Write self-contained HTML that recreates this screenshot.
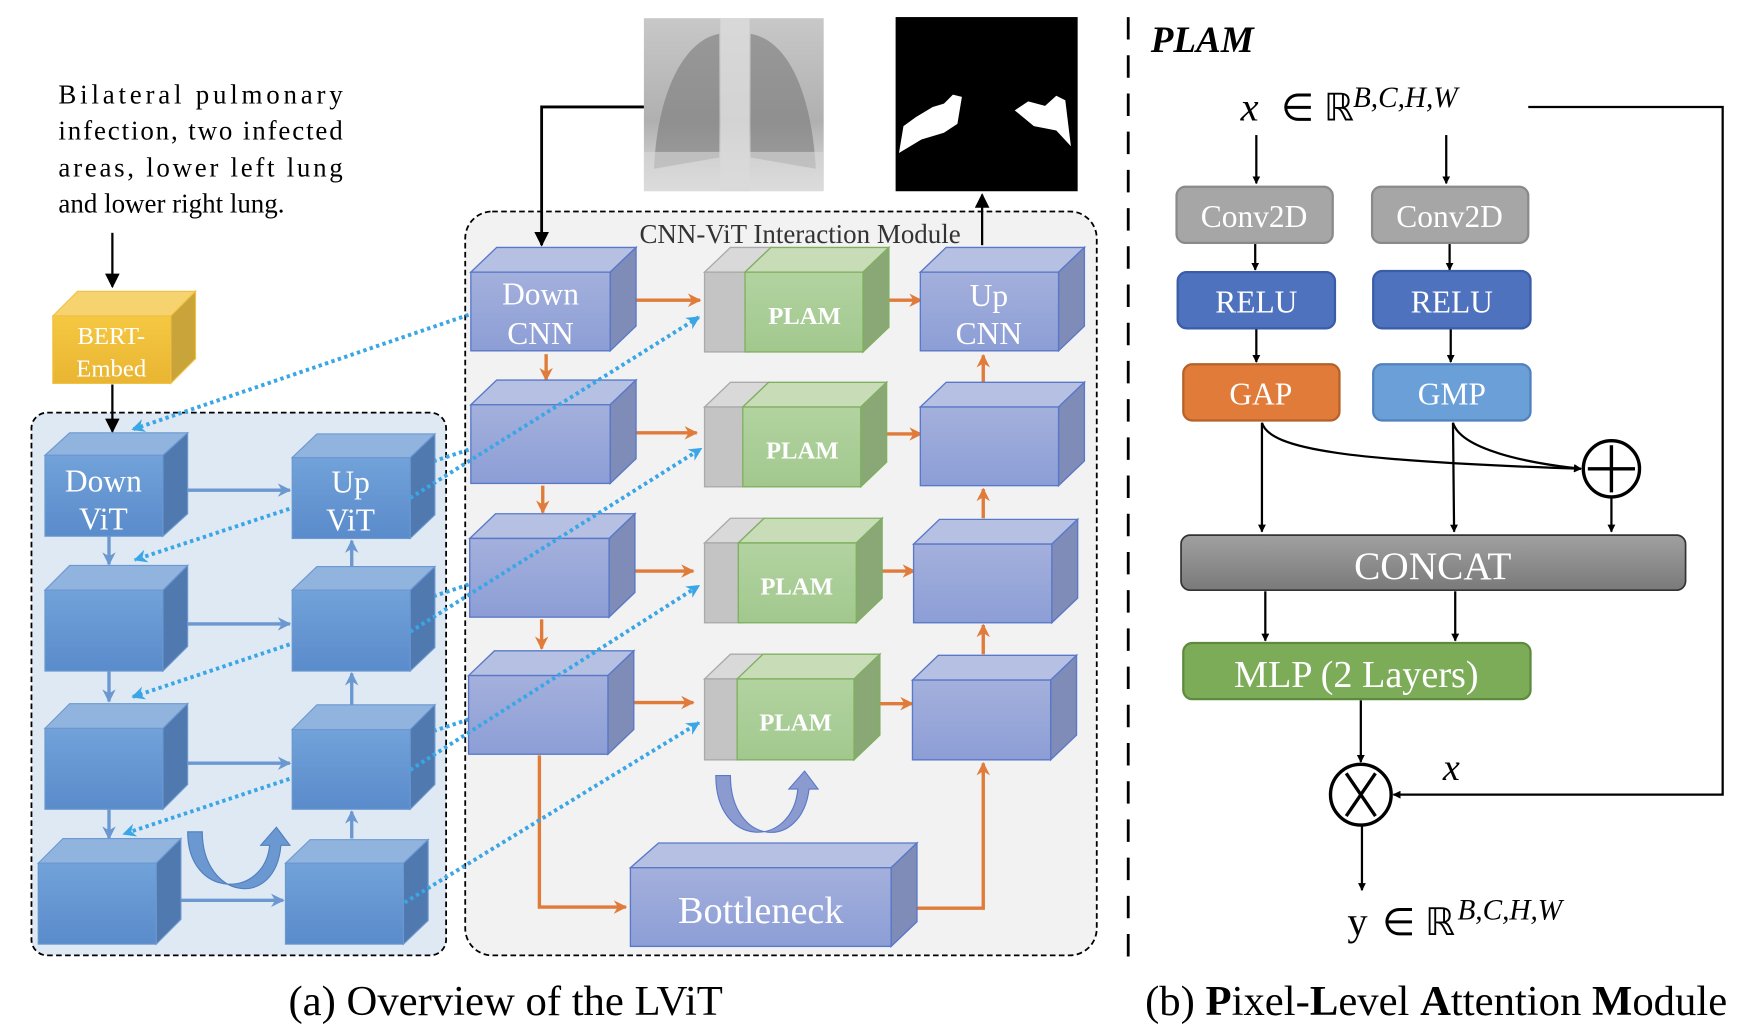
<!DOCTYPE html>
<html><head><meta charset="utf-8"><style>html,body{margin:0;padding:0;background:#fff}svg{display:block}svg text{font-family:"Liberation Serif","Times New Roman",serif}</style></head>
<body>
<svg xmlns="http://www.w3.org/2000/svg" width="1762" height="1032" viewBox="0 0 1568 918">
<defs>
<linearGradient id="vf" x1="0" y1="0" x2="0" y2="1"><stop offset="0" stop-color="#72a2d9"/><stop offset="1" stop-color="#5a8bcb"/></linearGradient>
<linearGradient id="cf" x1="0" y1="0" x2="0" y2="1"><stop offset="0" stop-color="#a4b0dc"/><stop offset="1" stop-color="#8c9ed6"/></linearGradient>
<linearGradient id="gf" x1="0" y1="0" x2="0" y2="1"><stop offset="0" stop-color="#b2d3a0"/><stop offset="1" stop-color="#a2c88e"/></linearGradient>
<linearGradient id="yf" x1="0" y1="0" x2="0" y2="1"><stop offset="0" stop-color="#f5c842"/><stop offset="1" stop-color="#e9b532"/></linearGradient>
<linearGradient id="concat" x1="0" y1="0" x2="0" y2="1"><stop offset="0" stop-color="#a0a0a0"/><stop offset="1" stop-color="#7a7a7a"/></linearGradient>
<linearGradient id="xr" x1="0" y1="0" x2="0" y2="1"><stop offset="0" stop-color="#c8c8c8"/><stop offset="0.6" stop-color="#b0b0b0"/><stop offset="1" stop-color="#e0e0e0"/></linearGradient>
<marker id="ab" viewBox="0 0 10 10" refX="9" refY="5" markerWidth="7" markerHeight="7" orient="auto-start-reverse" markerUnits="userSpaceOnUse"><path d="M0,0L10,5L0,10z" fill="#000"/></marker>
<marker id="ao" viewBox="0 0 10 10" refX="9" refY="5" markerWidth="12" markerHeight="12" orient="auto" markerUnits="userSpaceOnUse"><path d="M0,0L10,5L0,10L3,5z" fill="#e07b39"/></marker>
<marker id="av" viewBox="0 0 10 10" refX="9" refY="5" markerWidth="12" markerHeight="12" orient="auto" markerUnits="userSpaceOnUse"><path d="M0,0L10,5L0,10L3,5z" fill="#6b98d0"/></marker>
<marker id="ad" viewBox="0 0 10 10" refX="9" refY="5" markerWidth="12" markerHeight="12" orient="auto" markerUnits="userSpaceOnUse"><path d="M0,0L10,5L0,10L3,5z" fill="#3aa6e6"/></marker>
<marker id="ak" viewBox="0 0 10 10" refX="9" refY="5" markerWidth="13" markerHeight="13" orient="auto" markerUnits="userSpaceOnUse"><path d="M0,0L10,5L0,10z" fill="#000"/></marker>
</defs>

<rect x="28" y="367" width="369" height="483" rx="14" fill="#dfe9f4" stroke="#000" stroke-width="1.6" stroke-dasharray="5,3"/>
<rect x="414" y="188" width="562" height="662" rx="24" fill="#f2f2f2" stroke="#000" stroke-width="1.6" stroke-dasharray="5,3"/>
<line x1="1004" y1="15" x2="1004" y2="865" stroke="#000" stroke-width="2.5" stroke-dasharray="20,14"/>

<g font-size="24" fill="#000">
<text x="52" y="92" textLength="253" lengthAdjust="spacing">Bilateral pulmonary</text>
<text x="52" y="124" textLength="253" lengthAdjust="spacing">infection, two infected</text>
<text x="52" y="157" textLength="253" lengthAdjust="spacing">areas, lower left lung</text>
<text x="52" y="189">and lower right lung.</text>
</g>
<line x1="100" y1="207" x2="100" y2="255" stroke="#000" stroke-width="2" marker-end="url(#ak)"/>
<polygon points="47,281 69,259 174,259 152,281" fill="#f6d36e" stroke="#f0c040"/>
<polygon points="152,281 174,259 174,319 152,341" fill="#c9a43a" stroke="#f0c040"/>
<rect x="47" y="281" width="105" height="60" fill="url(#yf)" stroke="#f0c040"/>
<text x="99" y="306" font-size="22" fill="#fff" text-anchor="middle">BERT-</text>
<text x="99" y="335" font-size="22" fill="#fff" text-anchor="middle">Embed</text>
<line x1="100" y1="342" x2="100" y2="384" stroke="#000" stroke-width="2" marker-end="url(#ak)"/>

<rect x="573" y="16" width="160" height="154" fill="url(#xr)"/>
<path d="M640,30 C610,35 585,80 582,150 L640,140 Z" fill="#7a7a7a" opacity="0.6"/>
<path d="M668,30 C700,35 722,80 726,150 L668,140 Z" fill="#7a7a7a" opacity="0.6"/>
<rect x="641" y="16" width="26" height="154" fill="#dcdcdc" opacity="0.8"/>
<rect x="573" y="135" width="160" height="35" fill="#d8d8d8" opacity="0.6"/>
<rect x="797" y="15" width="162" height="155" fill="#000"/>
<path d="M800,136 L804,112 L815,104 L830,95 L840,92 L848,84 L856,86 L852,110 L840,118 L820,124 Z" fill="#fff"/>
<path d="M903,98 L915,90 L930,94 L940,85 L948,89 L953,130 L940,116 L920,112 Z" fill="#fff"/>
<polyline points="573,95 482,95 482,218" fill="none" stroke="#000" stroke-width="2.5" marker-end="url(#ak)"/>
<line x1="874" y1="218" x2="874" y2="173" stroke="#000" stroke-width="2" marker-end="url(#ak)"/>
<text x="712" y="216" font-size="24" fill="#333" text-anchor="middle">CNN-ViT Interaction Module</text>

<g stroke="#3aa6e6" stroke-width="3.5" stroke-dasharray="3,3" fill="none" marker-end="url(#ad)">
<line x1="417" y1="280" x2="118" y2="382"/>
<line x1="417" y1="400" x2="120" y2="498"/>
<line x1="417" y1="520" x2="118" y2="620"/>
<line x1="417" y1="640" x2="110" y2="742"/>
</g>

<g stroke="#6b98d0" stroke-width="3" fill="none" marker-end="url(#av)">
<line x1="145" y1="436" x2="258" y2="436"/>
<line x1="145" y1="555" x2="258" y2="555"/>
<line x1="145" y1="679" x2="258" y2="679"/>
<line x1="139" y1="801" x2="252" y2="801"/>
<line x1="97" y1="477" x2="97" y2="502"/>
<line x1="97" y1="597" x2="97" y2="624"/>
<line x1="97" y1="720" x2="97" y2="746"/>
<line x1="313" y1="505" x2="313" y2="481"/>
<line x1="313" y1="627" x2="313" y2="599"/>
<line x1="313" y1="746" x2="313" y2="722"/>
</g>

<g stroke="#6b98d0" stroke-width="1">
<polygon points="40,405 62,385 167,385 145,405" fill="#91b4df"/><polygon points="145,405 167,385 167,457 145,477" fill="#5079b0"/><rect x="40" y="405" width="105" height="72" fill="url(#vf)"/>
<polygon points="40,525 62,503 167,503 145,525" fill="#91b4df"/><polygon points="145,525 167,503 167,575 145,597" fill="#5079b0"/><rect x="40" y="525" width="105" height="72" fill="url(#vf)"/>
<polygon points="40,648 62,626 167,626 145,648" fill="#91b4df"/><polygon points="145,648 167,626 167,698 145,720" fill="#5079b0"/><rect x="40" y="648" width="105" height="72" fill="url(#vf)"/>
<polygon points="34,768 56,746 161,746 139,768" fill="#91b4df"/><polygon points="139,768 161,746 161,818 139,840" fill="#5079b0"/><rect x="34" y="768" width="105" height="72" fill="url(#vf)"/>
<polygon points="260,407 282,386 387,386 365,407" fill="#91b4df"/><polygon points="365,407 387,386 387,458 365,479" fill="#5079b0"/><rect x="260" y="407" width="105" height="72" fill="url(#vf)"/>
<polygon points="260,525 282,504 387,504 365,525" fill="#91b4df"/><polygon points="365,525 387,504 387,576 365,597" fill="#5079b0"/><rect x="260" y="525" width="105" height="72" fill="url(#vf)"/>
<polygon points="260,649 282,627 387,627 365,649" fill="#91b4df"/><polygon points="365,649 387,627 387,698 365,720" fill="#5079b0"/><rect x="260" y="649" width="105" height="71" fill="url(#vf)"/>
<polygon points="254,768 276,747 381,747 359,768" fill="#91b4df"/><polygon points="359,768 381,747 381,819 359,840" fill="#5079b0"/><rect x="254" y="768" width="105" height="72" fill="url(#vf)"/>
</g>
<g font-size="28" fill="#fff" text-anchor="middle">
<text x="92" y="437">Down</text><text x="92" y="471">ViT</text>
<text x="312" y="438">Up</text><text x="312" y="472">ViT</text>
</g>
<path d="M167,740 C167,800 235,800 240,752 L232,752 L246,736 L258,752 L250,752 C245,810 180,800 180,740 Z" fill="#6b98d0" stroke="#4e7fbf"/>

<g stroke="#e07b39" stroke-width="3" fill="none" marker-end="url(#ao)">
<line x1="545" y1="267" x2="623" y2="267"/>
<line x1="545" y1="385" x2="620" y2="385"/>
<line x1="543" y1="508" x2="617" y2="508"/>
<line x1="543" y1="625" x2="617" y2="625"/>
<line x1="766" y1="267" x2="820" y2="267"/>
<line x1="766" y1="386" x2="820" y2="386"/>
<line x1="762" y1="508" x2="814" y2="508"/>
<line x1="760" y1="626" x2="812" y2="626"/>
<line x1="486" y1="315" x2="486" y2="338"/>
<line x1="483" y1="432" x2="483" y2="456"/>
<line x1="482" y1="551" x2="482" y2="577"/>
<line x1="875" y1="340" x2="875" y2="316"/>
<line x1="875" y1="461" x2="875" y2="435"/>
<line x1="875" y1="582" x2="875" y2="556"/>
<polyline points="480,672 480,807 557,807"/>
<polyline points="795,808 875,808 875,679"/>
</g>

<g stroke="#5a78c8" stroke-width="1.2">
<polygon points="419,242 442,220 566,220 543,242" fill="#b5c0e2"/><polygon points="543,242 566,220 566,290 543,312" fill="#7f8cb8"/><rect x="419" y="242" width="124" height="70" fill="url(#cf)"/>
<polygon points="419,360 442,338 566,338 543,360" fill="#b5c0e2"/><polygon points="543,360 566,338 566,408 543,430" fill="#7f8cb8"/><rect x="419" y="360" width="124" height="70" fill="url(#cf)"/>
<polygon points="418,479 441,457 565,457 542,479" fill="#b5c0e2"/><polygon points="542,479 565,457 565,527 542,549" fill="#7f8cb8"/><rect x="418" y="479" width="124" height="70" fill="url(#cf)"/>
<polygon points="417,601 440,579 564,579 541,601" fill="#b5c0e2"/><polygon points="541,601 564,579 564,649 541,671" fill="#7f8cb8"/><rect x="417" y="601" width="124" height="70" fill="url(#cf)"/>
<polygon points="819,242 842,220 965,220 942,242" fill="#b5c0e2"/><polygon points="942,242 965,220 965,290 942,312" fill="#7f8cb8"/><rect x="819" y="242" width="123" height="70" fill="url(#cf)"/>
<polygon points="819,362 842,340 965,340 942,362" fill="#b5c0e2"/><polygon points="942,362 965,340 965,410 942,432" fill="#7f8cb8"/><rect x="819" y="362" width="123" height="70" fill="url(#cf)"/>
<polygon points="813,484 836,462 959,462 936,484" fill="#b5c0e2"/><polygon points="936,484 959,462 959,532 936,554" fill="#7f8cb8"/><rect x="813" y="484" width="123" height="70" fill="url(#cf)"/>
<polygon points="812,605 835,583 958,583 935,605" fill="#b5c0e2"/><polygon points="935,605 958,583 958,654 935,676" fill="#7f8cb8"/><rect x="812" y="605" width="123" height="71" fill="url(#cf)"/>
<polygon points="561,772 586,750 816,750 793,772" fill="#b5c0e2"/><polygon points="793,772 816,750 816,820 793,842" fill="#7f8cb8"/><rect x="561" y="772" width="232" height="70" fill="url(#cf)"/>
</g>
<g font-size="28" fill="#fff" text-anchor="middle">
<text x="481" y="271">Down</text><text x="481" y="306">CNN</text>
<text x="880" y="272">Up</text><text x="880" y="306">CNN</text>
<text x="677" y="821" font-size="34">Bottleneck</text>
</g>

<g stroke-width="1.2">
<polygon points="627,242 650,220 686,220 663,242" fill="#d9d9d9" stroke="#aaa"/><rect x="627" y="242" width="40" height="71" fill="#c4c4c4" stroke="#aaa"/><polygon points="663,242 686,220 791,220 768,242" fill="#c8dcb8" stroke="#7fb060"/><polygon points="768,242 791,220 791,291 768,313" fill="#8aa876" stroke="#7fb060"/><rect x="663" y="242" width="105" height="71" fill="url(#gf)" stroke="#7fb060"/>
<polygon points="627,362 650,340 684,340 661,362" fill="#d9d9d9" stroke="#aaa"/><rect x="627" y="362" width="38" height="71" fill="#c4c4c4" stroke="#aaa"/><polygon points="661,362 684,340 789,340 766,362" fill="#c8dcb8" stroke="#7fb060"/><polygon points="766,362 789,340 789,411 766,433" fill="#8aa876" stroke="#7fb060"/><rect x="661" y="362" width="105" height="71" fill="url(#gf)" stroke="#7fb060"/>
<polygon points="627,483 650,461 680,461 657,483" fill="#d9d9d9" stroke="#aaa"/><rect x="627" y="483" width="34" height="71" fill="#c4c4c4" stroke="#aaa"/><polygon points="657,483 680,461 785,461 762,483" fill="#c8dcb8" stroke="#7fb060"/><polygon points="762,483 785,461 785,532 762,554" fill="#8aa876" stroke="#7fb060"/><rect x="657" y="483" width="105" height="71" fill="url(#gf)" stroke="#7fb060"/>
<polygon points="627,604 650,582 679,582 656,604" fill="#d9d9d9" stroke="#aaa"/><rect x="627" y="604" width="33" height="72" fill="#c4c4c4" stroke="#aaa"/><polygon points="656,604 679,582 783,582 760,604" fill="#c8dcb8" stroke="#7fb060"/><polygon points="760,604 783,582 783,654 760,676" fill="#8aa876" stroke="#7fb060"/><rect x="656" y="604" width="104" height="72" fill="url(#gf)" stroke="#7fb060"/>
</g>
<g font-size="22" font-weight="bold" fill="#fff" text-anchor="middle">
<text x="716" y="288">PLAM</text><text x="714" y="408">PLAM</text><text x="709" y="529">PLAM</text><text x="708" y="650">PLAM</text>
</g>
<path d="M637,690 C637,755 705,755 710,702 L702,702 L716,686 L728,702 L720,702 C713,758 650,752 650,690 Z" fill="#8b9bd0" stroke="#5a78c8"/>

<g stroke="#3aa6e6" stroke-width="3.5" stroke-dasharray="3,3" fill="none" marker-end="url(#ad)">
<line x1="365" y1="443" x2="622" y2="282"/>
<line x1="365" y1="562" x2="624" y2="399"/>
<line x1="365" y1="685" x2="622" y2="521"/>
<line x1="360" y1="803" x2="622" y2="643"/>
</g>

<text x="450" y="903" font-size="38" text-anchor="middle">(a) Overview of the LViT</text>

<text x="1024" y="46" font-size="33" font-weight="bold" font-style="italic">PLAM</text>
<text x="1104" y="107" font-size="36" font-style="italic">x</text>
<text x="1140" y="107" font-size="34">∈ ℝ</text>
<text x="1204" y="95" font-size="26" font-style="italic">B,C,H,W</text>
<polyline points="1360,95 1533,95 1533,707 1240,707" fill="none" stroke="#000" stroke-width="2" marker-end="url(#ab)"/>
<g stroke="#000" stroke-width="2" fill="none" marker-end="url(#ab)">
<line x1="1118" y1="120" x2="1118" y2="163"/>
<line x1="1287" y1="120" x2="1287" y2="163"/>
<line x1="1117" y1="217" x2="1117" y2="240"/>
<line x1="1290" y1="217" x2="1290" y2="240"/>
<line x1="1118" y1="293" x2="1118" y2="322"/>
<line x1="1291" y1="293" x2="1291" y2="322"/>
<line x1="1123" y1="376" x2="1123" y2="473"/>
<line x1="1293" y1="376" x2="1294" y2="473"/>
<line x1="1434" y1="443" x2="1434" y2="473"/>
<line x1="1126" y1="526" x2="1126" y2="570"/>
<line x1="1295" y1="526" x2="1295" y2="570"/>
<line x1="1211" y1="623" x2="1211" y2="678"/>
<line x1="1212" y1="735" x2="1212" y2="792"/>
<path d="M1123,376 C1130,400 1200,410 1407,417"/>
<path d="M1293,376 C1300,400 1360,412 1407,417"/>
</g>
<rect x="1047" y="166" width="139" height="50" rx="8" fill="#a6a6a6" stroke="#8a8a8a" stroke-width="2"/>
<rect x="1221" y="166" width="139" height="50" rx="8" fill="#a6a6a6" stroke="#8a8a8a" stroke-width="2"/>
<rect x="1048" y="242" width="140" height="50" rx="8" fill="#4f72be" stroke="#3a5da8" stroke-width="2"/>
<rect x="1222" y="241" width="140" height="51" rx="8" fill="#4f72be" stroke="#3a5da8" stroke-width="2"/>
<rect x="1053" y="324" width="139" height="50" rx="8" fill="#e07b39" stroke="#b5622a" stroke-width="2"/>
<rect x="1222" y="324" width="140" height="50" rx="8" fill="#6a9fd8" stroke="#4f82bc" stroke-width="2"/>
<rect x="1051" y="476" width="449" height="49" rx="8" fill="url(#concat)" stroke="#333" stroke-width="1.5"/>
<rect x="1053" y="572" width="309" height="50" rx="8" fill="#7cac57" stroke="#5e8a3e" stroke-width="2"/>
<g font-size="28" fill="#fff" text-anchor="middle">
<text x="1116" y="202">Conv2D</text><text x="1290" y="202">Conv2D</text>
<text x="1118" y="278">RELU</text><text x="1292" y="278">RELU</text>
<text x="1122" y="360">GAP</text><text x="1292" y="360">GMP</text>
<text x="1275" y="515" font-size="35">CONCAT</text>
<text x="1207" y="611" font-size="34">MLP (2 Layers)</text>
</g>
<circle cx="1434" cy="417" r="25" fill="#fff" stroke="#000" stroke-width="3"/>
<path d="M1413,417H1455M1434,396V438" stroke="#000" stroke-width="3"/>
<circle cx="1211" cy="707" r="27" fill="#fff" stroke="#000" stroke-width="3"/>
<path d="M1198,688L1224,726M1224,688L1198,726" stroke="#000" stroke-width="3"/>
<text x="1284" y="694" font-size="34" font-style="italic">x</text>
<text x="1199" y="832" font-size="36">y</text>
<text x="1230" y="832" font-size="34">∈ ℝ</text>
<text x="1297" y="818" font-size="26" font-style="italic">B,C,H,W</text>
<text x="1278" y="903" font-size="38" text-anchor="middle">(b) <tspan font-weight="bold">P</tspan>ixel-<tspan font-weight="bold">L</tspan>evel <tspan font-weight="bold">A</tspan>ttention <tspan font-weight="bold">M</tspan>odule</text>
</svg>
</body></html>
